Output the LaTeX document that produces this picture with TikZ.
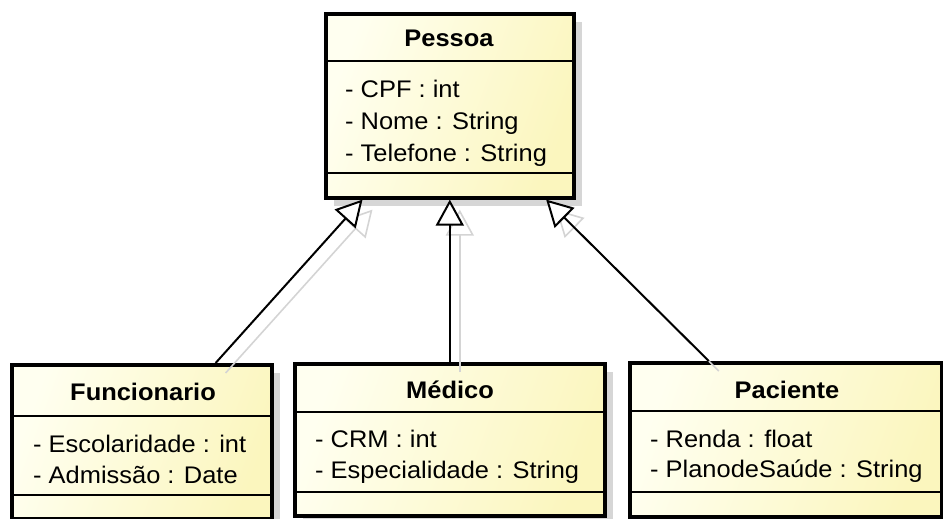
\documentclass[tikz,border=0pt]{standalone}
\usepackage{fontspec}
\setmainfont[FakeStretch=1.06]{Liberation Sans}
\usetikzlibrary{arrows.meta,calc,shadows}

\definecolor{boxlight}{RGB}{255,255,240}
\definecolor{boxyellow}{RGB}{251,246,190}
\definecolor{shadowgray}{RGB}{214,214,214}
\definecolor{lineshadow}{RGB}{212,212,212}

\tikzset{
  classbox/.style={draw=black, line width=3.6pt, anchor=north west,
    left color=boxlight, right color=boxyellow, shading angle=70,
    general shadow={shadow xshift=8pt, shadow yshift=-8pt, fill=shadowgray}},
  sepline/.style={draw=black, line width=1.8pt},
  classtitle/.style={anchor=base, inner sep=0pt,
    font=\fontsize{24}{29}\selectfont\bfseries},
  attr/.style={anchor=base west, inner sep=0pt,
    font=\fontsize{24}{29}\selectfont},
  gen/.style={draw=black, line width=2pt,
    -{Triangle[length=26pt, width=28pt, fill=white, line width=2pt]}},
  genshadow/.style={draw=lineshadow, line width=1.6pt,
    -{Triangle[length=26pt, width=28pt, fill=white, line width=1.6pt]}},
}

\begin{document}
\begin{tikzpicture}[x=1pt, y=-1pt]
\useasboundingbox (0,0) rectangle (943,519);

% ---- class boxes ----
\node[classbox, minimum width=248pt, minimum height=184pt] (pessoa) at (324,12) {};
\node[classbox, minimum width=260pt, minimum height=154pt] (func) at (10,363) {};
\node[classbox, minimum width=310pt, minimum height=152pt] (medico) at (293,362) {};
\node[classbox, minimum width=312pt, minimum height=154pt] (paciente) at (628,361) {};

% ---- compartment separators ----
\draw[sepline] ($(pessoa.north west)+(0,49)$) -- ($(pessoa.north east)+(0,49)$);
\draw[sepline] ($(pessoa.north west)+(0,161)$) -- ($(pessoa.north east)+(0,161)$);
\draw[sepline] ($(func.north west)+(0,53)$) -- ($(func.north east)+(0,53)$);
\draw[sepline] ($(func.north west)+(0,132)$) -- ($(func.north east)+(0,132)$);
\draw[sepline] ($(medico.north west)+(0,50)$) -- ($(medico.north east)+(0,50)$);
\draw[sepline] ($(medico.north west)+(0,130)$) -- ($(medico.north east)+(0,130)$);
\draw[sepline] ($(paciente.north west)+(0,50)$) -- ($(paciente.north east)+(0,50)$);
\draw[sepline] ($(paciente.north west)+(0,131)$) -- ($(paciente.north east)+(0,131)$);

% ---- texts ----
\node[classtitle] (pessoa-name) at (449,47) {Pessoa};
\node[attr] (pessoa-a1) at (345,97) {- CPF : int};
\node[attr] (pessoa-a2) at (345,129) {- Nome : String};
\node[attr] (pessoa-a3) at (345,161) {- Telefone : String};

\node[classtitle] (func-name) at (143,400) {Funcionario};
\node[attr] (func-a1) at (33,452) {- Escolaridade : int};
\node[attr] (func-a2) at (33,483) {- Admissão : Date};

\node[classtitle] (medico-name) at (450,398) {Médico};
\node[attr] (medico-a1) at (315,447) {- CRM : int};
\node[attr] (medico-a2) at (315,478) {- Especialidade : String};

\node[classtitle] (paciente-name) at (787,398) {Paciente};
\node[attr] (paciente-a1) at (650,447) {- Renda : float};
\node[attr] (paciente-a2) at (650,477) {- PlanodeSaúde : String};

% ---- attachment points ----
\coordinate (f-top) at ($(func.north west)!0.78!(func.north east)$);
\coordinate (p-left) at ($(pessoa.south west)!0.153!(pessoa.south east)$);
\coordinate (m-top) at (medico.north);
\coordinate (p-mid) at (pessoa.south);
\coordinate (pa-top) at ($(paciente.north west)!0.256!(paciente.north east)$);
\coordinate (p-right) at ($(pessoa.south west)!0.883!(pessoa.south east)$);

% ---- generalisation shadows ----
\draw[genshadow] ([shift={(10,10)}]f-top) -- ([shift={(10,10)}]p-left);
\draw[genshadow] ([shift={(10,10)}]m-top) -- ([shift={(10,10)}]p-mid);
\draw[genshadow] ([shift={(10,10)}]pa-top) -- ([shift={(10,10)}]p-right);

% ---- generalisations ----
\draw[gen] (f-top) -- (p-left);
\draw[gen] (m-top) -- (p-mid);
\draw[gen] (pa-top) -- (p-right);
\end{tikzpicture}
\end{document}
